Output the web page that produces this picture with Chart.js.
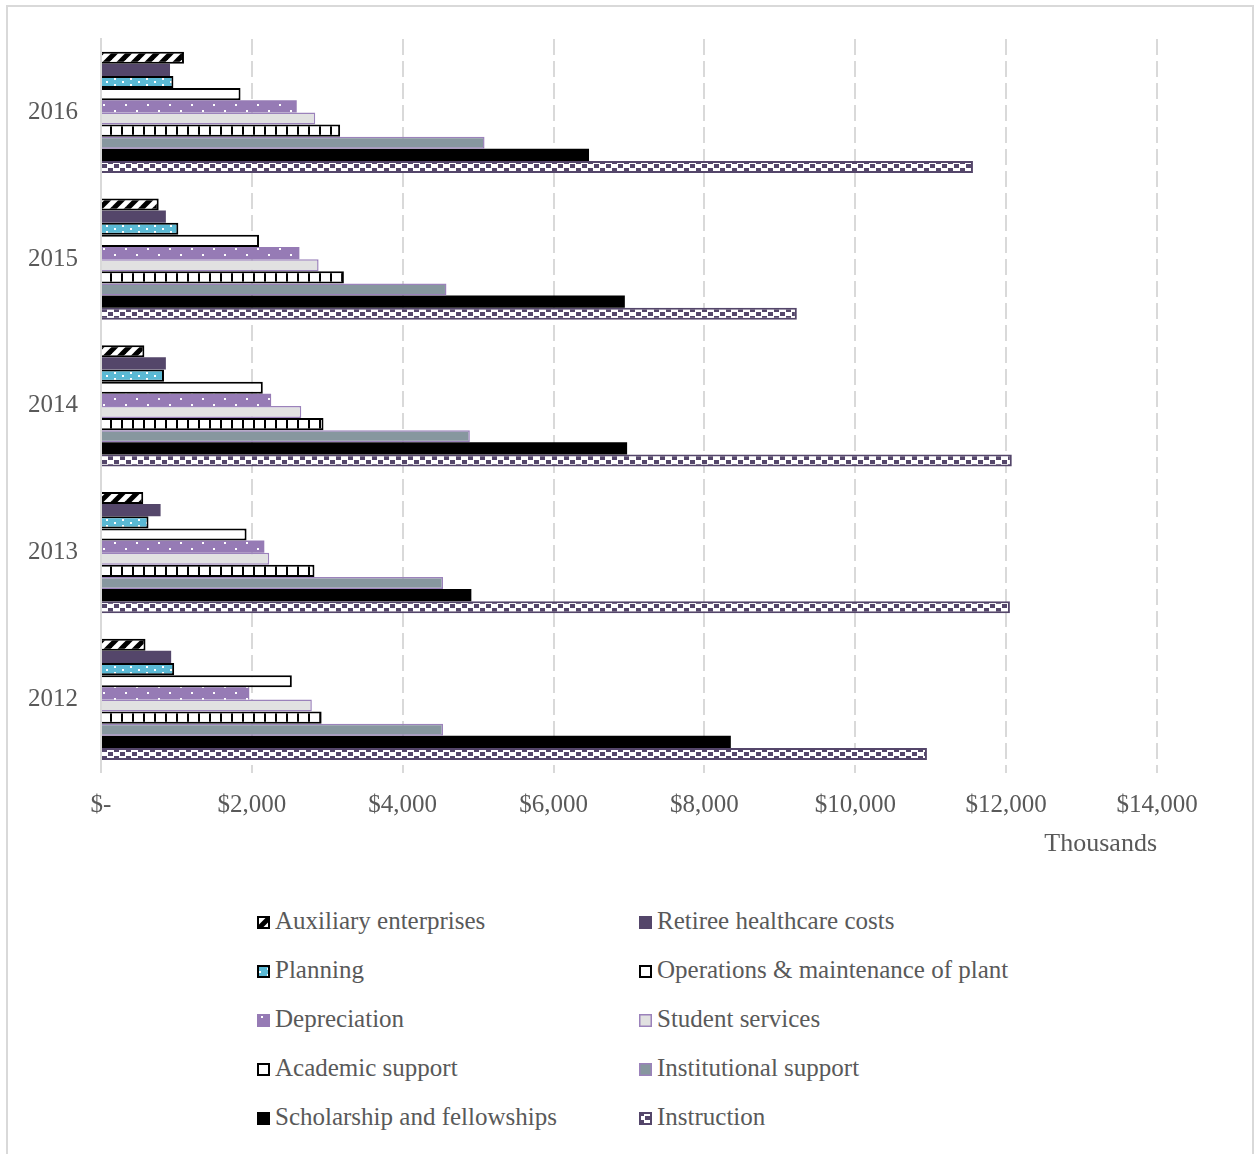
<!DOCTYPE html>
<html>
<head>
<meta charset="utf-8">
<script src="https://cdn.jsdelivr.net/npm/chart.js@4/dist/chart.umd.min.js"></script>
<style>
  html, body { margin: 0; padding: 0; background: #fff; }
  body { width: 1257px; height: 1154px; position: relative; overflow: hidden; font-family: "Liberation Serif", serif; }
  #frame { position: absolute; left: 6px; top: 5px; width: 1244px; height: 1170px; border: 2px solid #d9d9d9; }
  #wrap { position: absolute; left: 0; top: 0; width: 1257px; height: 870px; }
  #legend { position: absolute; left: 0; top: 0; width: 1257px; }
  .item { position: absolute; display: flex; align-items: center; color: #595959; font-size: 25px; white-space: nowrap; }
  .item canvas { margin-right: 5px; margin-top: 2px; }
</style>
</head>
<body>
<div id="frame"></div>
<div id="wrap"><canvas id="chart"></canvas></div>
<div id="legend"></div>
<script>
// Expenses by function, in thousands of dollars
const years = ['2016', '2015', '2014', '2013', '2012'];
const seriesNames = [
  'Auxiliary enterprises', 'Retiree healthcare costs', 'Planning',
  'Operations & maintenance of plant', 'Depreciation', 'Student services',
  'Academic support', 'Institutional support', 'Scholarship and fellowships', 'Instruction'
];
const auxiliary = [1100, 765, 575, 560, 590];
const retiree = [915, 860, 860, 790, 930];
const planning = [960, 1025, 835, 630, 970];
const operations = [1850, 2095, 2145, 1930, 2530];
const depreciation = [2595, 2630, 2255, 2165, 1965];
const studentServices = [2840, 2885, 2655, 2230, 2795];
const academicSupport = [3170, 3220, 2950, 2830, 2925];
const institutionalSupport = [5085, 4580, 4890, 4535, 4535];
const scholarships = [6470, 6945, 6975, 4910, 8350];
const instruction = [11560, 9225, 12075, 12050, 10950];
const xTicks = [0, 2000, 4000, 6000, 8000, 10000, 12000, 14000];

const PURPLE_DARK = '#54466a';

// Small tile canvases used as repeating fills
function tile(w, h, draw) {
  const c = document.createElement('canvas');
  c.width = w; c.height = h;
  draw(c.getContext('2d'), w, h);
  return c;
}
const tiles = {
  diagonal: tile(14, 14, (g, s) => {
    g.fillStyle = '#fff'; g.fillRect(0, 0, s, s);
    g.strokeStyle = '#000'; g.lineWidth = 5;
    [[0, s, s, 0], [-s / 2, s / 2, s / 2, -s / 2], [s / 2, 3 * s / 2, 3 * s / 2, s / 2]].forEach(l => {
      g.beginPath(); g.moveTo(l[0], l[1]); g.lineTo(l[2], l[3]); g.stroke();
    });
  }),
  tealDots: tile(16, 6, (g, w, h) => {
    g.fillStyle = '#5ab9d4'; g.fillRect(0, 0, w, h);
    g.fillStyle = '#fff';
    g.fillRect(2, 0, 2, 2); g.fillRect(10, 3, 2, 2);
  }),
  purpleDots: tile(22, 12, (g, w, h) => {
    g.fillStyle = '#967bb5'; g.fillRect(0, 0, w, h);
    g.fillStyle = '#fff';
    g.fillRect(4, 2, 2, 2); g.fillRect(15, 8, 2, 2);
  }),
  vlines: tile(11, 4, (g, w, h) => {
    g.fillStyle = '#fff'; g.fillRect(0, 0, w, h);
    g.fillStyle = '#000'; g.fillRect(0, 0, 2, h);
  }),
  checker: tile(12, 8, (g, w, h) => {
    g.fillStyle = '#fff'; g.fillRect(0, 0, w, h);
    g.fillStyle = PURPLE_DARK;
    g.fillRect(0, 0, 5, 4); g.fillRect(6, 4, 5, 4);
  })
};

const ctx = document.getElementById('chart').getContext('2d');
const pat = name => ctx.createPattern(tiles[name], 'repeat');

const styles = [
  { fill: () => pat('diagonal'), tile: 'diagonal', border: '#000', bw: 2 },
  { fill: () => PURPLE_DARK, color: PURPLE_DARK, border: PURPLE_DARK, bw: 0 },
  { fill: () => pat('tealDots'), tile: 'tealDots', border: '#000', bw: 2 },
  { fill: () => '#ffffff', color: '#ffffff', border: '#000', bw: 2 },
  { fill: () => pat('purpleDots'), tile: 'purpleDots', border: '#967bb5', bw: 0 },
  { fill: () => '#e1e1e1', color: '#e1e1e1', border: '#9b82bb', bw: 1.5 },
  { fill: () => pat('vlines'), tile: 'vlines', border: '#000', bw: 2 },
  { fill: () => '#87979f', color: '#87979f', border: '#9b82bb', bw: 1.5 },
  { fill: () => '#000000', color: '#000000', border: '#000', bw: 0 },
  { fill: () => pat('checker'), tile: 'checker', border: PURPLE_DARK, bw: 2 }
];
const values = [auxiliary, retiree, planning, operations, depreciation,
  studentServices, academicSupport, institutionalSupport, scholarships, instruction];

const datasets = values.map((v, i) => ({
  label: seriesNames[i],
  data: v,
  backgroundColor: styles[i].fill(),
  borderColor: styles[i].border,
  borderWidth: styles[i].bw,
  categoryPercentage: 0.827,
  barPercentage: 1.0
}));

Chart.defaults.font.family = '"Liberation Serif", serif';
Chart.defaults.color = '#595959';

new Chart(ctx, {
  type: 'bar',
  data: { labels: years, datasets },
  options: {
    indexAxis: 'y',
    responsive: true,
    maintainAspectRatio: false,
    animation: false,
    layout: { padding: { left: 5, right: 100, top: 39, bottom: 10 } },
    plugins: { legend: { display: false }, tooltip: { enabled: false } },
    scales: {
      x: {
        min: 0, max: 14000,
        afterBuildTicks: axis => { axis.ticks = xTicks.map(v => ({ value: v })); },
        ticks: {
          padding: 18,
          font: { size: 25 },
          color: '#595959',
          callback: v => v === 0 ? '$-' : '$' + Number(v).toLocaleString('en-US')
        },
        grid: {
          drawTicks: false,
          color: c => c.tick && c.tick.value === 0 ? 'rgba(0,0,0,0)' : '#d9d9d9',
          lineWidth: 2
        },
        border: { display: false, dash: [16, 6] },
        title: {
          display: true, text: 'Thousands', align: 'end',
          font: { size: 26 }, color: '#595959', padding: { top: -10, bottom: 0 }
        }
      },
      y: {
        ticks: { padding: 23, font: { size: 25 }, color: '#595959' },
        grid: { display: false, drawTicks: false },
        border: { display: true, color: '#d9d9d9', width: 2 }
      }
    }
  }
});

// Two-column legend below the plot
const legend = document.getElementById('legend');
const colX = [257, 639];
const rowY = [922, 971, 1020, 1069, 1118];
seriesNames.forEach((name, i) => {
  const item = document.createElement('div');
  item.className = 'item';
  item.style.left = colX[i % 2] + 'px';
  item.style.top = (rowY[Math.floor(i / 2)] - 15) + 'px';
  const sw = document.createElement('canvas');
  sw.width = 13; sw.height = 13;
  const g = sw.getContext('2d');
  const st = styles[i];
  g.fillStyle = st.tile ? g.createPattern(tiles[st.tile], 'repeat') : st.color;
  g.fillRect(0, 0, 13, 13);
  const bw = st.bw > 0 ? st.bw : 0;
  if (bw) {
    g.strokeStyle = st.border; g.lineWidth = bw;
    g.strokeRect(bw / 2, bw / 2, 13 - bw, 13 - bw);
  }
  const label = document.createElement('span');
  label.textContent = name;
  item.appendChild(sw);
  item.appendChild(label);
  legend.appendChild(item);
});
</script>
</body>
</html>
